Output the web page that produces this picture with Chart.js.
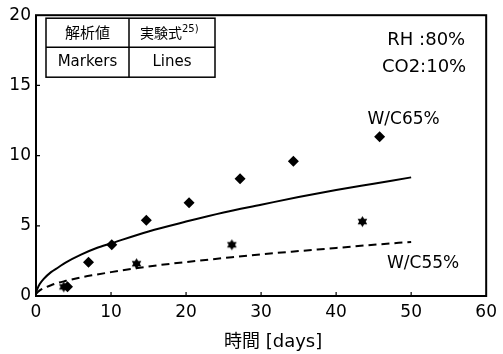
<!DOCTYPE html>
<html>
<head>
<meta charset="utf-8">
<script src="https://cdn.jsdelivr.net/npm/chart.js@4/dist/chart.umd.min.js"></script>
<style>
  html, body { margin: 0; padding: 0; background: #fff; }
  #wrap { width: 503px; height: 354px; }
</style>
</head>
<body>
<div id="wrap"><canvas id="c" width="503" height="354"></canvas></div>
<script>
// Analysis results (markers)
const wc65Days  = [4.2, 7.0, 10.1, 14.7, 20.4, 27.2, 34.3, 45.8];
const wc65Depth = [0.65, 2.4, 3.65, 5.4, 6.65, 8.35, 9.6, 11.35];
const wc55Days  = [3.7, 13.4, 26.1, 43.5];
const wc55Depth = [0.65, 2.3, 3.65, 5.3];

// Empirical formula curves (lines)
const curveDays   = [0, 0.25, 0.5, 1, 2, 3, 4, 6, 8, 10, 15, 20, 25, 30, 35, 40, 45, 50];
const curve65     = [0.25, 0.6, 0.85, 1.2, 1.7, 2.05, 2.4, 2.95, 3.4, 3.75, 4.6, 5.3, 5.95, 6.5, 7.05, 7.55, 8.0, 8.45];
const curve55     = [0.15, 0.28, 0.4, 0.55, 0.77, 0.95, 1.08, 1.33, 1.52, 1.7, 2.1, 2.42, 2.7, 2.97, 3.2, 3.42, 3.65, 3.85];

// Axis ticks
const xTicks = [0, 10, 20, 30, 40, 50, 60];
const yTicks = [0, 5, 10, 15, 20];

const xTitle = '時間 [days]';
const FONT = '"DejaVu Sans", "Noto Sans CJK JP", sans-serif';

const pts = (xs, ys) => xs.map((v, i) => ({ x: v, y: ys[i] }));

// Filled six-pointed star marker
function hexStar(r) {
  const c = document.createElement('canvas');
  const s = Math.ceil(r * 2 + 2);
  c.width = s; c.height = s;
  const g = c.getContext('2d');
  g.fillStyle = '#000';
  g.beginPath();
  for (let i = 0; i < 12; i++) {
    const a = -Math.PI / 2 + i * Math.PI / 6;
    const rr = i % 2 === 0 ? r : r * 0.6;
    const px = s / 2 + Math.cos(a) * rr, py = s / 2 + Math.sin(a) * rr;
    i === 0 ? g.moveTo(px, py) : g.lineTo(px, py);
  }
  g.closePath();
  g.fill();
  return c;
}

const overlay = {
  id: 'overlay',
  afterDraw(chart) {
    const { ctx, chartArea: a, scales: { x, y } } = chart;
    ctx.save();
    ctx.strokeStyle = '#000';
    ctx.fillStyle = '#000';

    // plot frame
    ctx.lineWidth = 2;
    ctx.strokeRect(a.left, a.top, a.right - a.left, a.bottom - a.top);

    // inward tick marks
    ctx.lineWidth = 1.2;
    ctx.beginPath();
    xTicks.forEach(v => {
      if (v <= 0 || v >= 60) return;
      const px = x.getPixelForValue(v);
      ctx.moveTo(px, a.bottom); ctx.lineTo(px, a.bottom - 4);
    });
    yTicks.forEach(v => {
      if (v <= 0 || v >= 20) return;
      const py = y.getPixelForValue(v);
      ctx.moveTo(a.left, py); ctx.lineTo(a.left + 4, py);
    });
    ctx.stroke();

    // key table
    const tl = a.left + 10, tt = a.top + 3, tw = 169, th = 59;
    const div = tl + 83, mid = tt + 29;
    ctx.lineWidth = 1.5;
    ctx.strokeRect(tl, tt, tw, th);
    ctx.beginPath();
    ctx.moveTo(tl, mid); ctx.lineTo(tl + tw, mid);
    ctx.moveTo(div, tt); ctx.lineTo(div, tt + th);
    ctx.stroke();

    ctx.textBaseline = 'middle';
    ctx.textAlign = 'center';
    ctx.font = '15px ' + FONT;
    ctx.fillText('解析値', (tl + div) / 2, tt + 16);
    ctx.fillText('Markers', (tl + div) / 2, mid + 15);
    ctx.fillText('Lines', (div + tl + tw) / 2, mid + 15);
    ctx.textAlign = 'left';
    ctx.font = '14px ' + FONT;
    ctx.fillText('実験式', div + 11, tt + 16);
    ctx.font = '10px ' + FONT;
    ctx.fillText('25)', div + 53, tt + 11);

    // test conditions
    ctx.textAlign = 'right';
    ctx.font = '18px ' + FONT;
    ctx.fillText('RH :80%', a.right - 21, a.top + 25);
    ctx.fillText('CO2:10%', a.right - 20, a.top + 52);

    // series labels
    ctx.textAlign = 'center';
    ctx.font = '17px ' + FONT;
    ctx.fillText('W/C65%', x.getPixelForValue(49), y.getPixelForValue(12.55));
    ctx.fillText('W/C55%', x.getPixelForValue(51.6), y.getPixelForValue(2.3));

    // x axis title
    ctx.font = '18px ' + FONT;
    ctx.fillText(xTitle, x.getPixelForValue(31.6), a.bottom + 46);
    ctx.restore();
  }
};

new Chart(document.getElementById('c'), {
  type: 'scatter',
  data: {
    datasets: [
      {
        label: 'W/C65% 解析値',
        data: pts(wc65Days, wc65Depth),
        pointStyle: 'rectRot',
        pointRadius: 5.5,
        backgroundColor: '#000',
        borderColor: '#000',
        borderWidth: 0,
        showLine: false
      },
      {
        label: 'W/C55% 解析値',
        data: pts(wc55Days, wc55Depth),
        pointStyle: hexStar(5.5),
        pointRadius: 5.5,
        backgroundColor: '#000',
        borderColor: '#000',
        showLine: false
      },
      {
        label: 'W/C65% 実験式',
        data: pts(curveDays, curve65),
        showLine: true,
        pointRadius: 0,
        borderColor: '#000',
        borderWidth: 2,
        tension: 0.4,
        cubicInterpolationMode: 'monotone'
      },
      {
        label: 'W/C55% 実験式',
        data: pts(curveDays, curve55),
        showLine: true,
        pointRadius: 0,
        borderColor: '#000',
        borderWidth: 2,
        borderDash: [8, 5],
        cubicInterpolationMode: 'monotone'
      }
    ]
  },
  options: {
    responsive: false,
    animation: false,
    devicePixelRatio: 1,
    layout: { padding: { left: 0, right: 11, top: 10, bottom: 0 } },
    plugins: { legend: { display: false }, tooltip: { enabled: false } },
    scales: {
      x: {
        type: 'linear', min: 0, max: 60,
        afterFit(s) { s.height = 58; },
        afterBuildTicks(s) { s.ticks = xTicks.map(v => ({ value: v })); },
        grid: { display: false, drawTicks: false },
        border: { display: false },
        ticks: { color: '#000', padding: 6, maxRotation: 0, font: { family: FONT, size: 17 } }
      },
      y: {
        type: 'linear', min: 0, max: 20,
        afterFit(s) { s.width = 36; },
        afterBuildTicks(s) { s.ticks = yTicks.map(v => ({ value: v })); },
        grid: { display: false, drawTicks: false },
        border: { display: false },
        ticks: { color: '#000', padding: 5, font: { family: FONT, size: 17 } }
      }
    }
  },
  plugins: [overlay]
});
</script>
</body>
</html>
